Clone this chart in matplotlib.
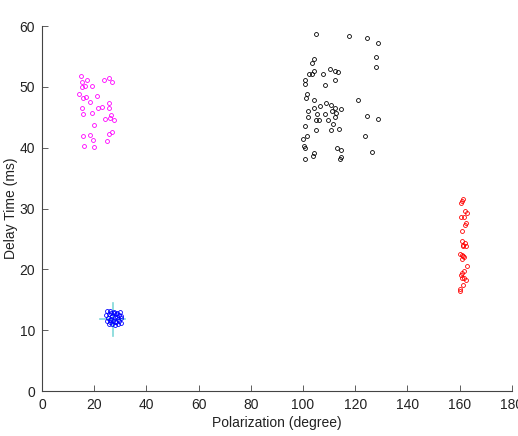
import matplotlib.pyplot as plt
import numpy as np

plt.rcParams['font.family'] = ['Liberation Sans', 'DejaVu Sans']

# magenta cluster (polarization, delay)
mag_x = [14.9, 17.1, 23.7, 25.5, 26.9, 15.2, 16.5, 15.4, 19.0, 14.2, 17.0, 15.8,
         21.1, 18.5, 25.8, 15.2, 21.4, 23.1, 25.5, 19.1, 15.7, 26.4, 24.1, 25.9,
         27.6, 19.9, 15.6, 18.4, 19.4, 25.5, 26.8, 24.9, 16.2, 20.0]
mag_y = [51.8, 51.2, 51.2, 51.5, 50.8, 50.9, 50.2, 50.0, 50.1, 48.9, 48.4, 48.2,
         48.5, 47.6, 47.3, 46.6, 46.6, 46.7, 46.5, 45.8, 45.6, 45.4, 44.7, 44.9,
         44.6, 43.7, 42.0, 42.1, 41.3, 42.3, 42.6, 41.2, 40.3, 40.1]

# black cluster
blk_x = [104.9, 117.6, 124.5, 128.7, 128.0, 127.8, 104.2, 103.3, 104.2, 102.3,
         103.4, 110.3, 112.2, 113.4, 107.6, 100.8, 100.6, 112.2, 108.4, 101.4,
         101.0, 104.3, 121.1, 108.8, 110.6, 112.3, 106.4, 104.4, 114.4, 102.1,
         111.1, 112.6, 105.2, 108.5, 112.1, 102.0, 124.7, 128.8, 104.8, 106.0,
         109.4, 111.5, 100.6, 113.7, 110.7, 104.9, 101.4, 100.2, 123.7, 100.5,
         100.8, 112.9, 114.5, 104.2, 103.8, 126.5, 100.8, 114.5, 114.2]
blk_y = [58.7, 58.4, 58.1, 57.2, 54.9, 53.3, 54.6, 53.9, 52.7, 52.2,
         52.2, 53.0, 52.6, 52.5, 52.2, 51.2, 50.5, 51.1, 50.3, 48.9,
         48.2, 47.8, 47.8, 47.4, 47.0, 46.6, 46.8, 46.5, 46.3, 46.0,
         46.0, 45.7, 45.6, 45.5, 45.0, 45.0, 45.3, 44.8, 44.5, 44.5,
         44.6, 43.9, 43.6, 43.1, 43.0, 43.0, 42.0, 41.4, 42.0, 40.3,
         40.0, 39.9, 39.6, 39.1, 38.6, 39.3, 38.2, 38.5, 38.2]

# red cluster
red_x = [161.4, 160.9, 160.4, 162.1, 162.7, 161.6, 160.6, 162.4, 162.1, 161.0,
         161.0, 161.9, 161.5, 162.5, 161.4, 160.0, 161.0, 161.5, 161.7, 161.0,
         162.7, 161.6, 161.1, 160.4, 161.8, 160.8, 162.3, 161.4, 160.2, 160.1]
red_y = [31.6, 31.3, 31.0, 29.6, 29.2, 28.6, 28.6, 27.7, 27.3, 26.4,
         24.7, 24.4, 24.1, 23.8, 23.8, 22.6, 22.4, 22.2, 22.0, 21.7,
         20.5, 19.7, 19.4, 19.1, 18.6, 18.6, 18.2, 17.5, 16.8, 16.4]

# blue cluster
blu_x = [25.0, 26.2, 27.5, 28.8, 29.9, 24.6, 25.8, 27.0, 28.2, 29.4, 30.4,
         25.2, 26.5, 27.8, 29.0, 30.1, 24.8, 26.0, 27.2, 28.5, 29.7,
         25.5, 26.8, 28.0, 29.2, 30.3, 26.3, 27.6, 28.9, 25.9, 27.9]
blu_y = [13.1, 13.2, 13.0, 12.9, 13.0, 12.5, 12.6, 12.4, 12.7, 12.5, 12.3,
         12.0, 11.9, 12.1, 11.8, 12.0, 11.5, 11.4, 11.6, 11.3, 11.5,
         11.0, 11.1, 10.9, 11.0, 11.2, 12.9, 12.8, 12.2, 11.7, 11.4]

# cyan cross (mean +/- spread of blue cluster)
cross_x, cross_y = 27.1, 11.8
cross_dx, cross_dy = 4.8, 2.7

fig = plt.figure(figsize=(5.18, 4.36), dpi=100)
ax = fig.add_axes([0.081, 0.103, 0.907, 0.837])

ax.plot([cross_x - cross_dx, cross_x + cross_dx], [cross_y, cross_y], color='#7fd8d8', lw=1.2, zorder=1)
ax.plot([cross_x, cross_x], [cross_y - cross_dy, cross_y + cross_dy], color='#7fd8d8', lw=1.2, zorder=1)

kw = dict(ls='none', marker='o', ms=2.8, mfc='none', mew=0.6)
ax.plot(mag_x, mag_y, color='#ff00ff', **kw)
ax.plot(blk_x, blk_y, color='black', **kw)
ax.plot(red_x, red_y, color='red', **kw)
ax.plot(blu_x, blu_y, color='blue', **kw)

ax.set_xlim(0, 180)
ax.set_ylim(0, 60)
ax.set_xticks(np.arange(0, 181, 20))
ax.set_yticks(np.arange(0, 61, 10))
ax.spines['top'].set_visible(False)
ax.spines['right'].set_visible(False)
for s in ['left', 'bottom']:
    ax.spines[s].set_color('#444444')
    ax.spines[s].set_linewidth(0.8)
ax.tick_params(direction='in', length=4, width=0.6, pad=5, colors='#444444', labelcolor='#222222', labelsize=10)
ax.set_xlabel('Polarization (degree)', fontsize=10, color='#222222', labelpad=3)
ax.set_ylabel('Delay Time (ms)', fontsize=10, color='#222222', labelpad=1)

fig.savefig('out.png', dpi=100)
